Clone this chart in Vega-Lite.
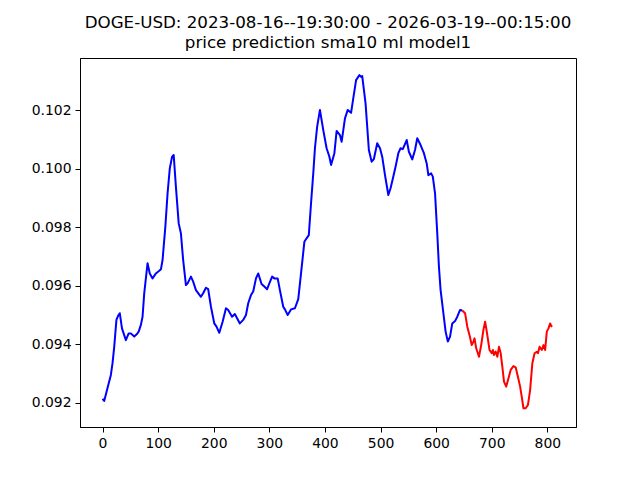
{
  "$schema": "https://vega.github.io/schema/vega-lite/v6.json",
  "width": 496,
  "height": 369,
  "autosize": {"type": "none"},
  "padding": {"left": 80, "top": 58, "right": 64, "bottom": 53},
  "background": "white",
  "title": {
    "text": ["DOGE-USD: 2023-08-16--19:30:00 - 2026-03-19--00:15:00", "price prediction sma10 ml model1"],
    "font": "DejaVu Sans",
    "fontSize": 16.7,
    "fontWeight": "normal",
    "color": "black",
    "lineHeight": 20.5,
    "anchor": "middle",
    "offset": 6
  },
  "config": {
    "view": {"stroke": "black", "strokeWidth": 1},
    "axis": {
      "grid": false,
      "domainColor": "black",
      "domainWidth": 1,
      "tickColor": "black",
      "tickSize": 5,
      "tickWidth": 1,
      "labelFont": "DejaVu Sans",
      "labelFontSize": 13.9,
      "labelColor": "black",
      "labelPadding": 4,
      "title": null
    }
  },
  "data": {
    "values": [
      {"x": 0, "price": 0.09213, "series": "actual"},
      {"x": 3, "price": 0.09206, "series": "actual"},
      {"x": 9, "price": 0.0925, "series": "actual"},
      {"x": 15, "price": 0.09295, "series": "actual"},
      {"x": 18, "price": 0.09335, "series": "actual"},
      {"x": 21, "price": 0.0939, "series": "actual"},
      {"x": 25, "price": 0.09483, "series": "actual"},
      {"x": 28, "price": 0.09497, "series": "actual"},
      {"x": 31, "price": 0.09506, "series": "actual"},
      {"x": 35, "price": 0.09454, "series": "actual"},
      {"x": 39, "price": 0.09431, "series": "actual"},
      {"x": 42, "price": 0.09414, "series": "actual"},
      {"x": 47, "price": 0.09437, "series": "actual"},
      {"x": 51, "price": 0.09437, "series": "actual"},
      {"x": 57, "price": 0.09426, "series": "actual"},
      {"x": 62, "price": 0.09435, "series": "actual"},
      {"x": 65, "price": 0.09443, "series": "actual"},
      {"x": 69, "price": 0.09466, "series": "actual"},
      {"x": 72, "price": 0.09494, "series": "actual"},
      {"x": 75, "price": 0.09574, "series": "actual"},
      {"x": 81, "price": 0.09677, "series": "actual"},
      {"x": 85, "price": 0.09642, "series": "actual"},
      {"x": 90, "price": 0.09625, "series": "actual"},
      {"x": 96, "price": 0.09642, "series": "actual"},
      {"x": 102, "price": 0.09651, "series": "actual"},
      {"x": 105, "price": 0.09656, "series": "actual"},
      {"x": 108, "price": 0.09688, "series": "actual"},
      {"x": 113, "price": 0.09802, "series": "actual"},
      {"x": 117, "price": 0.09916, "series": "actual"},
      {"x": 121, "price": 0.10001, "series": "actual"},
      {"x": 125, "price": 0.1004, "series": "actual"},
      {"x": 128, "price": 0.10047, "series": "actual"},
      {"x": 132, "price": 0.09938, "series": "actual"},
      {"x": 137, "price": 0.09813, "series": "actual"},
      {"x": 141, "price": 0.09779, "series": "actual"},
      {"x": 145, "price": 0.09688, "series": "actual"},
      {"x": 150, "price": 0.09602, "series": "actual"},
      {"x": 153, "price": 0.09608, "series": "actual"},
      {"x": 159, "price": 0.09631, "series": "actual"},
      {"x": 163, "price": 0.09614, "series": "actual"},
      {"x": 168, "price": 0.09585, "series": "actual"},
      {"x": 173, "price": 0.09572, "series": "actual"},
      {"x": 177, "price": 0.09562, "series": "actual"},
      {"x": 181, "price": 0.09574, "series": "actual"},
      {"x": 186, "price": 0.09593, "series": "actual"},
      {"x": 190, "price": 0.09588, "series": "actual"},
      {"x": 195, "price": 0.09528, "series": "actual"},
      {"x": 201, "price": 0.09471, "series": "actual"},
      {"x": 205, "price": 0.0946, "series": "actual"},
      {"x": 210, "price": 0.09439, "series": "actual"},
      {"x": 216, "price": 0.09477, "series": "actual"},
      {"x": 222, "price": 0.09523, "series": "actual"},
      {"x": 226, "price": 0.09517, "series": "actual"},
      {"x": 233, "price": 0.09494, "series": "actual"},
      {"x": 238, "price": 0.09503, "series": "actual"},
      {"x": 242, "price": 0.09489, "series": "actual"},
      {"x": 247, "price": 0.09471, "series": "actual"},
      {"x": 253, "price": 0.09483, "series": "actual"},
      {"x": 258, "price": 0.095, "series": "actual"},
      {"x": 262, "price": 0.0954, "series": "actual"},
      {"x": 267, "price": 0.09568, "series": "actual"},
      {"x": 271, "price": 0.0958, "series": "actual"},
      {"x": 276, "price": 0.09625, "series": "actual"},
      {"x": 280, "price": 0.09642, "series": "actual"},
      {"x": 286, "price": 0.09606, "series": "actual"},
      {"x": 291, "price": 0.09597, "series": "actual"},
      {"x": 296, "price": 0.09588, "series": "actual"},
      {"x": 300, "price": 0.09608, "series": "actual"},
      {"x": 305, "price": 0.09631, "series": "actual"},
      {"x": 309, "price": 0.09625, "series": "actual"},
      {"x": 315, "price": 0.09625, "series": "actual"},
      {"x": 319, "price": 0.09585, "series": "actual"},
      {"x": 325, "price": 0.09528, "series": "actual"},
      {"x": 328, "price": 0.09519, "series": "actual"},
      {"x": 333, "price": 0.095, "series": "actual"},
      {"x": 339, "price": 0.09519, "series": "actual"},
      {"x": 346, "price": 0.09523, "series": "actual"},
      {"x": 352, "price": 0.09554, "series": "actual"},
      {"x": 357, "price": 0.09642, "series": "actual"},
      {"x": 363, "price": 0.0975, "series": "actual"},
      {"x": 367, "price": 0.09762, "series": "actual"},
      {"x": 371, "price": 0.09773, "series": "actual"},
      {"x": 375, "price": 0.09882, "series": "actual"},
      {"x": 379, "price": 0.09984, "series": "actual"},
      {"x": 382, "price": 0.1007, "series": "actual"},
      {"x": 386, "price": 0.10144, "series": "actual"},
      {"x": 391, "price": 0.10201, "series": "actual"},
      {"x": 397, "price": 0.10132, "series": "actual"},
      {"x": 403, "price": 0.1007, "series": "actual"},
      {"x": 408, "price": 0.10041, "series": "actual"},
      {"x": 411, "price": 0.10013, "series": "actual"},
      {"x": 417, "price": 0.10053, "series": "actual"},
      {"x": 421, "price": 0.10129, "series": "actual"},
      {"x": 427, "price": 0.10115, "series": "actual"},
      {"x": 430, "price": 0.10092, "series": "actual"},
      {"x": 436, "price": 0.10172, "series": "actual"},
      {"x": 441, "price": 0.10201, "series": "actual"},
      {"x": 447, "price": 0.10191, "series": "actual"},
      {"x": 451, "price": 0.10241, "series": "actual"},
      {"x": 456, "price": 0.10303, "series": "actual"},
      {"x": 462, "price": 0.1032, "series": "actual"},
      {"x": 465, "price": 0.10314, "series": "actual"},
      {"x": 467, "price": 0.10317, "series": "actual"},
      {"x": 473, "price": 0.10224, "series": "actual"},
      {"x": 479, "price": 0.10064, "series": "actual"},
      {"x": 484, "price": 0.10024, "series": "actual"},
      {"x": 488, "price": 0.10033, "series": "actual"},
      {"x": 494, "price": 0.10087, "series": "actual"},
      {"x": 499, "price": 0.1007, "series": "actual"},
      {"x": 503, "price": 0.10041, "series": "actual"},
      {"x": 508, "price": 0.09978, "series": "actual"},
      {"x": 514, "price": 0.0991, "series": "actual"},
      {"x": 518, "price": 0.09933, "series": "actual"},
      {"x": 523, "price": 0.09973, "series": "actual"},
      {"x": 527, "price": 0.10007, "series": "actual"},
      {"x": 532, "price": 0.10053, "series": "actual"},
      {"x": 536, "price": 0.1007, "series": "actual"},
      {"x": 540, "price": 0.10067, "series": "actual"},
      {"x": 547, "price": 0.10098, "series": "actual"},
      {"x": 551, "price": 0.10058, "series": "actual"},
      {"x": 557, "price": 0.10032, "series": "actual"},
      {"x": 562, "price": 0.10064, "series": "actual"},
      {"x": 566, "price": 0.10104, "series": "actual"},
      {"x": 572, "price": 0.10081, "series": "actual"},
      {"x": 578, "price": 0.10053, "series": "actual"},
      {"x": 583, "price": 0.10018, "series": "actual"},
      {"x": 586, "price": 0.09978, "series": "actual"},
      {"x": 591, "price": 0.09984, "series": "actual"},
      {"x": 594, "price": 0.09973, "series": "actual"},
      {"x": 598, "price": 0.09916, "series": "actual"},
      {"x": 602, "price": 0.09779, "series": "actual"},
      {"x": 605, "price": 0.09665, "series": "actual"},
      {"x": 608, "price": 0.09585, "series": "actual"},
      {"x": 613, "price": 0.09506, "series": "actual"},
      {"x": 617, "price": 0.09443, "series": "actual"},
      {"x": 621, "price": 0.09409, "series": "actual"},
      {"x": 625, "price": 0.09426, "series": "actual"},
      {"x": 629, "price": 0.09471, "series": "actual"},
      {"x": 634, "price": 0.09479, "series": "actual"},
      {"x": 638, "price": 0.09494, "series": "actual"},
      {"x": 643, "price": 0.09517, "series": "actual"},
      {"x": 647, "price": 0.09515, "series": "actual"},
      {"x": 647, "price": 0.09515, "series": "prediction"},
      {"x": 652, "price": 0.09506, "series": "prediction"},
      {"x": 656, "price": 0.0946, "series": "prediction"},
      {"x": 660, "price": 0.09431, "series": "prediction"},
      {"x": 664, "price": 0.09397, "series": "prediction"},
      {"x": 667, "price": 0.09409, "series": "prediction"},
      {"x": 669, "price": 0.0942, "series": "prediction"},
      {"x": 672, "price": 0.09386, "series": "prediction"},
      {"x": 677, "price": 0.09357, "series": "prediction"},
      {"x": 681, "price": 0.09397, "series": "prediction"},
      {"x": 685, "price": 0.09449, "series": "prediction"},
      {"x": 688, "price": 0.09477, "series": "prediction"},
      {"x": 690, "price": 0.09455, "series": "prediction"},
      {"x": 692, "price": 0.09431, "series": "prediction"},
      {"x": 696, "price": 0.0938, "series": "prediction"},
      {"x": 700, "price": 0.09369, "series": "prediction"},
      {"x": 702, "price": 0.0938, "series": "prediction"},
      {"x": 704, "price": 0.09363, "series": "prediction"},
      {"x": 707, "price": 0.09375, "series": "prediction"},
      {"x": 710, "price": 0.09357, "series": "prediction"},
      {"x": 713, "price": 0.09391, "series": "prediction"},
      {"x": 716, "price": 0.0937, "series": "prediction"},
      {"x": 719, "price": 0.09323, "series": "prediction"},
      {"x": 722, "price": 0.09272, "series": "prediction"},
      {"x": 726, "price": 0.09255, "series": "prediction"},
      {"x": 730, "price": 0.09283, "series": "prediction"},
      {"x": 734, "price": 0.09312, "series": "prediction"},
      {"x": 739, "price": 0.09325, "series": "prediction"},
      {"x": 743, "price": 0.09321, "series": "prediction"},
      {"x": 747, "price": 0.09289, "series": "prediction"},
      {"x": 751, "price": 0.09255, "series": "prediction"},
      {"x": 754, "price": 0.0922, "series": "prediction"},
      {"x": 757, "price": 0.09181, "series": "prediction"},
      {"x": 761, "price": 0.09181, "series": "prediction"},
      {"x": 765, "price": 0.09192, "series": "prediction"},
      {"x": 769, "price": 0.09243, "series": "prediction"},
      {"x": 773, "price": 0.09335, "series": "prediction"},
      {"x": 777, "price": 0.09369, "series": "prediction"},
      {"x": 781, "price": 0.09374, "series": "prediction"},
      {"x": 783, "price": 0.09369, "series": "prediction"},
      {"x": 786, "price": 0.09391, "series": "prediction"},
      {"x": 790, "price": 0.0938, "series": "prediction"},
      {"x": 793, "price": 0.09397, "series": "prediction"},
      {"x": 796, "price": 0.0938, "series": "prediction"},
      {"x": 799, "price": 0.09443, "series": "prediction"},
      {"x": 802, "price": 0.09454, "series": "prediction"},
      {"x": 805, "price": 0.09471, "series": "prediction"},
      {"x": 807, "price": 0.09462, "series": "prediction"},
      {"x": 809, "price": 0.0946, "series": "prediction"}
    ]
  },
  "mark": {"type": "line", "strokeWidth": 2, "strokeJoin": "round", "clip": true},
  "encoding": {
    "x": {
      "field": "x",
      "type": "quantitative",
      "scale": {"domain": [-40.5, 851.5], "nice": false, "zero": false},
      "axis": {"values": [0, 100, 200, 300, 400, 500, 600, 700, 800], "format": "d"}
    },
    "y": {
      "field": "price",
      "type": "quantitative",
      "scale": {"domain": [0.091169, 0.103785], "nice": false, "zero": false},
      "axis": {"values": [0.092, 0.094, 0.096, 0.098, 0.1, 0.102], "format": ".3f"}
    },
    "color": {
      "field": "series",
      "type": "nominal",
      "scale": {"domain": ["actual", "prediction"], "range": ["#0000ff", "#ff0000"]},
      "legend": null
    },
    "order": {"field": "x", "type": "quantitative"}
  }
}
